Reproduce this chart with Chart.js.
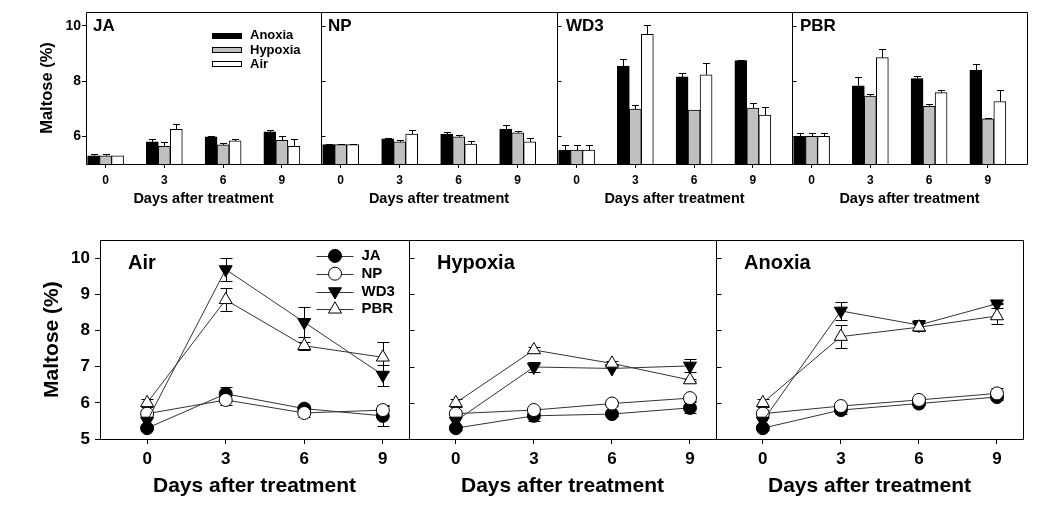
<!DOCTYPE html>
<html><head><meta charset="utf-8">
<script src="https://cdn.jsdelivr.net/npm/chart.js@4.4.0/dist/chart.umd.min.js"></script>
<style>
html,body{margin:0;padding:0;background:#fff;width:1039px;height:508px;overflow:hidden;position:relative;}
canvas{position:absolute;}
</style></head><body>
<script>
// ---------- DATA ----------
const days = [0, 3, 6, 9];
const conditions = ['Anoxia', 'Hypoxia', 'Air'];
const cultivars = ['JA', 'NP', 'WD3', 'PBR'];
const xTickValues = [0, 3, 6, 9];
const topYTicks = [6, 8, 10];
const bottomYTicks = [5, 6, 7, 8, 9, 10];
const yTitle = 'Maltose (%)';
const xTitle = 'Days after treatment';

const JA_anoxia  = [5.30, 5.80, 5.98, 6.16];
const JA_hypoxia = [5.30, 5.64, 5.69, 5.86];
const JA_air     = [5.30, 6.25, 5.84, 5.64];
const NP_anoxia  = [5.70, 5.91, 6.08, 6.26];
const NP_hypoxia = [5.70, 5.80, 5.98, 6.13];
const NP_air     = [5.70, 6.08, 5.72, 5.80];
const WD3_anoxia  = [5.50, 8.54, 8.15, 8.74];
const WD3_hypoxia = [5.50, 6.99, 6.95, 7.02];
const WD3_air     = [5.50, 9.69, 8.23, 6.77];
const PBR_anoxia  = [6.00, 7.83, 8.09, 8.40];
const PBR_hypoxia = [6.00, 7.46, 7.09, 6.63];
const PBR_air     = [6.00, 8.85, 7.58, 7.26];

const JA_anoxia_err  = [0.05, 0.10, 0.03, 0.07];
const JA_hypoxia_err = [0.05, 0.15, 0.06, 0.15];
const JA_air_err     = [0.00, 0.20, 0.07, 0.28];
const NP_anoxia_err  = [0.02, 0.02, 0.08, 0.15];
const NP_hypoxia_err = [0.02, 0.07, 0.08, 0.07];
const NP_air_err     = [0.02, 0.15, 0.11, 0.15];
const WD3_anoxia_err  = [0.18, 0.26, 0.14, 0.02];
const WD3_hypoxia_err = [0.18, 0.15, 0.00, 0.18];
const WD3_air_err     = [0.18, 0.33, 0.42, 0.29];
const PBR_anoxia_err  = [0.11, 0.32, 0.11, 0.23];
const PBR_hypoxia_err = [0.11, 0.07, 0.07, 0.03];
const PBR_air_err     = [0.11, 0.32, 0.11, 0.42];

const vals = {
  JA: {Anoxia: JA_anoxia, Hypoxia: JA_hypoxia, Air: JA_air},
  NP: {Anoxia: NP_anoxia, Hypoxia: NP_hypoxia, Air: NP_air},
  WD3: {Anoxia: WD3_anoxia, Hypoxia: WD3_hypoxia, Air: WD3_air},
  PBR: {Anoxia: PBR_anoxia, Hypoxia: PBR_hypoxia, Air: PBR_air}
};
const errs = {
  JA: {Anoxia: JA_anoxia_err, Hypoxia: JA_hypoxia_err, Air: JA_air_err},
  NP: {Anoxia: NP_anoxia_err, Hypoxia: NP_hypoxia_err, Air: NP_air_err},
  WD3: {Anoxia: WD3_anoxia_err, Hypoxia: WD3_hypoxia_err, Air: WD3_air_err},
  PBR: {Anoxia: PBR_anoxia_err, Hypoxia: PBR_hypoxia_err, Air: PBR_air_err}
};

// ---------- STYLE ----------
const FAM = '"Liberation Sans", Arial, Helvetica, sans-serif';
const F = (size) => ({family: FAM, size: size, weight: 'bold'});
Chart.defaults.font.family = FAM;
Chart.defaults.color = '#000';
const barColors = ['#000000', '#c0c0c0', '#ffffff'];
const markerStyles = [
  {style: 'circle', rot: 0, r: 6.5, fill: '#000'},
  {style: 'circle', rot: 0, r: 6.5, fill: '#fff'},
  {style: 'triangle', rot: 180, r: 7.5, fill: '#000'},
  {style: 'triangle', rot: 0, r: 7.5, fill: '#fff'}
];

function makeCanvas(left, top, w, h) {
  const c = document.createElement('canvas');
  c.width = w; c.height = h;
  c.style.left = left + 'px'; c.style.top = top + 'px';
  c.style.width = w + 'px'; c.style.height = h + 'px';
  document.body.appendChild(c);
  return c;
}

function drawMarker(ctx, st, x, y) {
  ctx.save();
  ctx.fillStyle = st.fill; ctx.strokeStyle = '#000'; ctx.lineWidth = 1;
  ctx.beginPath();
  if (st.style === 'circle') {
    ctx.arc(x, y, st.r, 0, Math.PI * 2);
  } else {
    let rad = st.rot * Math.PI / 180;
    for (let i = 0; i < 3; i++) {
      const px = x + Math.sin(rad) * st.r, py = y - Math.cos(rad) * st.r;
      if (i === 0) ctx.moveTo(px, py); else ctx.lineTo(px, py);
      rad += Math.PI * 2 / 3;
    }
    ctx.closePath();
  }
  ctx.fill(); ctx.stroke();
  ctx.restore();
}

function framePlugin(innerTicks, tickVals, tickLen) {
  return {
    id: 'frame',
    afterDraw(chart) {
      const a = chart.chartArea, ctx = chart.ctx;
      ctx.save();
      ctx.strokeStyle = '#000'; ctx.lineWidth = 1;
      const l = Math.round(a.left) + 0.5, t = Math.round(a.top) + 0.5;
      const r = Math.round(a.right) + 0.5, b = Math.round(a.bottom) + 0.5;
      ctx.beginPath();
      ctx.moveTo(l, t); ctx.lineTo(r, t); ctx.lineTo(r, b); ctx.lineTo(l, b); ctx.closePath();
      ctx.stroke();
      if (innerTicks) {
        const ys = chart.scales.y;
        ctx.beginPath();
        tickVals.forEach(v => {
          const yy = Math.round(ys.getPixelForValue(v)) + 0.5;
          ctx.moveTo(l, yy); ctx.lineTo(l + tickLen, yy);
        });
        ctx.stroke();
      }
      ctx.restore();
    }
  };
}

function labelPlugin(text, dx, dy, size) {
  return {
    id: 'panelLabel',
    afterDraw(chart) {
      const a = chart.chartArea, ctx = chart.ctx;
      ctx.save();
      ctx.font = 'bold ' + size + 'px ' + FAM;
      ctx.fillStyle = '#000'; ctx.textBaseline = 'middle'; ctx.textAlign = 'left';
      ctx.fillText(text, a.left + dx, a.top + dy);
      ctx.restore();
    }
  };
}

const barErrorPlugin = {
  id: 'barErr',
  afterDatasetsDraw(chart) {
    const ctx = chart.ctx, ys = chart.scales.y;
    ctx.save(); ctx.strokeStyle = '#000'; ctx.lineWidth = 1;
    chart.data.datasets.forEach((ds, di) => {
      const meta = chart.getDatasetMeta(di);
      meta.data.forEach((el, j) => {
        const e = ds.errors[j]; if (!e) return;
        const v = ds.data[j].y;
        const x = Math.round(el.x) + 0.5;
        const yTop = Math.round(ys.getPixelForValue(v + e)) + 0.5;
        ctx.beginPath();
        ctx.moveTo(x, el.y); ctx.lineTo(x, yTop);
        ctx.moveTo(x - 3.5, yTop); ctx.lineTo(x + 3.5, yTop);
        ctx.stroke();
      });
    });
    ctx.restore();
  }
};

const lineErrorPlugin = {
  id: 'lineErr',
  beforeDatasetsDraw(chart) {
    const ctx = chart.ctx, ys = chart.scales.y;
    ctx.save(); ctx.strokeStyle = '#000'; ctx.lineWidth = 1;
    chart.data.datasets.forEach((ds, di) => {
      const meta = chart.getDatasetMeta(di);
      meta.data.forEach((el, j) => {
        const e = ds.errors[j]; if (!e) return;
        const v = ds.data[j].y;
        const x = Math.round(el.x) + 0.5;
        const y1 = Math.round(ys.getPixelForValue(v + e)) + 0.5;
        const y2 = Math.round(ys.getPixelForValue(v - e)) + 0.5;
        ctx.beginPath();
        ctx.moveTo(x, y1); ctx.lineTo(x, y2);
        ctx.moveTo(x - 6, y1); ctx.lineTo(x + 6, y1);
        ctx.moveTo(x - 6, y2); ctx.lineTo(x + 6, y2);
        ctx.stroke();
      });
    });
    ctx.restore();
  }
};

const barLegendPlugin = {
  id: 'barLegend',
  afterDraw(chart) {
    const a = chart.chartArea, ctx = chart.ctx;
    ctx.save();
    ctx.font = 'bold 13px ' + FAM;
    ctx.textBaseline = 'middle'; ctx.textAlign = 'left';
    conditions.forEach((c, k) => {
      const yc = a.top + 23.8 + k * 14.3;
      ctx.fillStyle = barColors[k];
      ctx.fillRect(a.left + 126, Math.round(yc - 3), 30, 6);
      ctx.strokeStyle = '#000'; ctx.lineWidth = 1;
      ctx.strokeRect(a.left + 126.5, Math.round(yc - 3) + 0.5, 29, 5);
      ctx.fillStyle = '#000';
      ctx.fillText(c, a.left + 164, yc);
    });
    ctx.restore();
  }
};

const lineLegendPlugin = {
  id: 'lineLegend',
  afterDraw(chart) {
    const a = chart.chartArea, ctx = chart.ctx;
    ctx.save();
    ctx.font = 'bold 15px ' + FAM;
    ctx.textBaseline = 'middle'; ctx.textAlign = 'left';
    cultivars.forEach((c, k) => {
      const yc = a.top + 15.7 + k * 17.8;
      ctx.strokeStyle = '#333'; ctx.lineWidth = 1;
      ctx.beginPath();
      ctx.moveTo(a.left + 216.5, Math.round(yc) + 0.5); ctx.lineTo(a.left + 253.5, Math.round(yc) + 0.5);
      ctx.stroke();
      drawMarker(ctx, markerStyles[k], a.left + 235, yc);
      ctx.fillStyle = '#000';
      ctx.fillText(c, a.left + 261.5, yc);
    });
    ctx.restore();
  }
};

function axisX(min, max, height, tickLen, tickSize, tickPad, titleSize, titlePad) {
  return {
    type: 'linear', min: min, max: max, offset: false,
    afterBuildTicks: s => { s.ticks = xTickValues.map(v => ({value: v})); },
    afterFit: s => { s.height = height; },
    grid: {drawOnChartArea: false, drawTicks: true, tickLength: tickLen, color: '#000', offset: false},
    border: {display: false},
    ticks: {font: F(tickSize), color: '#000', padding: tickPad, maxRotation: 0, autoSkip: false},
    title: {display: true, text: xTitle, font: F(titleSize), color: '#000', padding: {top: 0, bottom: titlePad}}
  };
}

function axisY(show, min, max, tickVals, width, tickLen, tickSize, tickPad, titleSize, titlePad) {
  return {
    type: 'linear', display: show, min: min, max: max,
    afterBuildTicks: s => { s.ticks = tickVals.map(v => ({value: v})); },
    afterFit: s => { s.width = show ? width : 0; },
    grid: {drawOnChartArea: false, drawTicks: true, tickLength: tickLen, color: '#000'},
    border: {display: false},
    ticks: {font: F(tickSize), color: '#000', padding: tickPad},
    title: {display: show, text: yTitle, font: F(titleSize), color: '#000', padding: {top: titlePad, bottom: 0}}
  };
}

// ---------- TOP ROW: bar panels ----------
const topPanels = [
  {cult: 'JA', left: 0, width: 323, dx: 7},
  {cult: 'NP', left: 321, width: 238, dx: 7},
  {cult: 'WD3', left: 557, width: 237, dx: 9},
  {cult: 'PBR', left: 792, width: 237, dx: 8}
];
topPanels.forEach((p, idx) => {
  const first = idx === 0;
  const cv = makeCanvas(p.left, 0, p.width, 210);
  const plugins = [barErrorPlugin, framePlugin(!first, topYTicks, 4), labelPlugin(p.cult, p.dx, 14, 17)];
  if (first) plugins.push(barLegendPlugin);
  new Chart(cv, {
    type: 'bar',
    data: {
      datasets: conditions.map((c, k) => ({
        label: c,
        data: days.map((d, i) => ({x: d, y: vals[p.cult][c][i]})),
        errors: errs[p.cult][c],
        backgroundColor: barColors[k],
        borderColor: '#000', borderWidth: 1,
        barThickness: 12, base: 5
      }))
    },
    options: {
      responsive: false, animation: false, devicePixelRatio: 1,
      layout: {autoPadding: false, padding: {left: 0, right: 2, top: 12, bottom: 0}},
      plugins: {legend: {display: false}, tooltip: {enabled: false}},
      scales: {
        x: axisX(-1, 11, 46, 4, 12, 5, 14.5, 2.3),
        y: axisY(first, 5, 10.5, topYTicks, 86, 4, 14, 1, 16.5, 38)
      }
    },
    plugins: plugins
  });
});

// ---------- BOTTOM ROW: line panels ----------
const bottomPanels = [
  {cond: 'Air', left: 0, width: 411},
  {cond: 'Hypoxia', left: 409, width: 309},
  {cond: 'Anoxia', left: 716, width: 309}
];
bottomPanels.forEach((p, idx) => {
  const first = idx === 0;
  const cv = makeCanvas(p.left, 225, p.width, 283);
  const plugins = [lineErrorPlugin, framePlugin(!first, bottomYTicks, 5), labelPlugin(p.cond, 28, 23, 20)];
  if (first) plugins.push(lineLegendPlugin);
  new Chart(cv, {
    type: 'line',
    data: {
      datasets: cultivars.map((cu, k) => ({
        label: cu,
        data: days.map((d, i) => ({x: d, y: vals[cu][p.cond][i]})),
        errors: errs[cu][p.cond],
        borderColor: '#333', borderWidth: 1, tension: 0, fill: false,
        pointStyle: markerStyles[k].style, pointRotation: markerStyles[k].rot,
        pointRadius: markerStyles[k].r, pointHoverRadius: markerStyles[k].r,
        pointBackgroundColor: markerStyles[k].fill, pointBorderColor: '#000', pointBorderWidth: 1,
        order: 4 - k
      }))
    },
    options: {
      responsive: false, animation: false, devicePixelRatio: 1,
      layout: {autoPadding: false, padding: {left: 0, right: 2, top: 15, bottom: 0}},
      plugins: {legend: {display: false}, tooltip: {enabled: false}},
      scales: {
        x: axisX(-1.8, 10, 69, 5, 17, 5, 21, 9.4),
        y: axisY(first, 5, 10.5, bottomYTicks, 100, 5, 17, 5, 21, 39.4)
      }
    },
    plugins: plugins
  });
});
</script>
</body></html>
